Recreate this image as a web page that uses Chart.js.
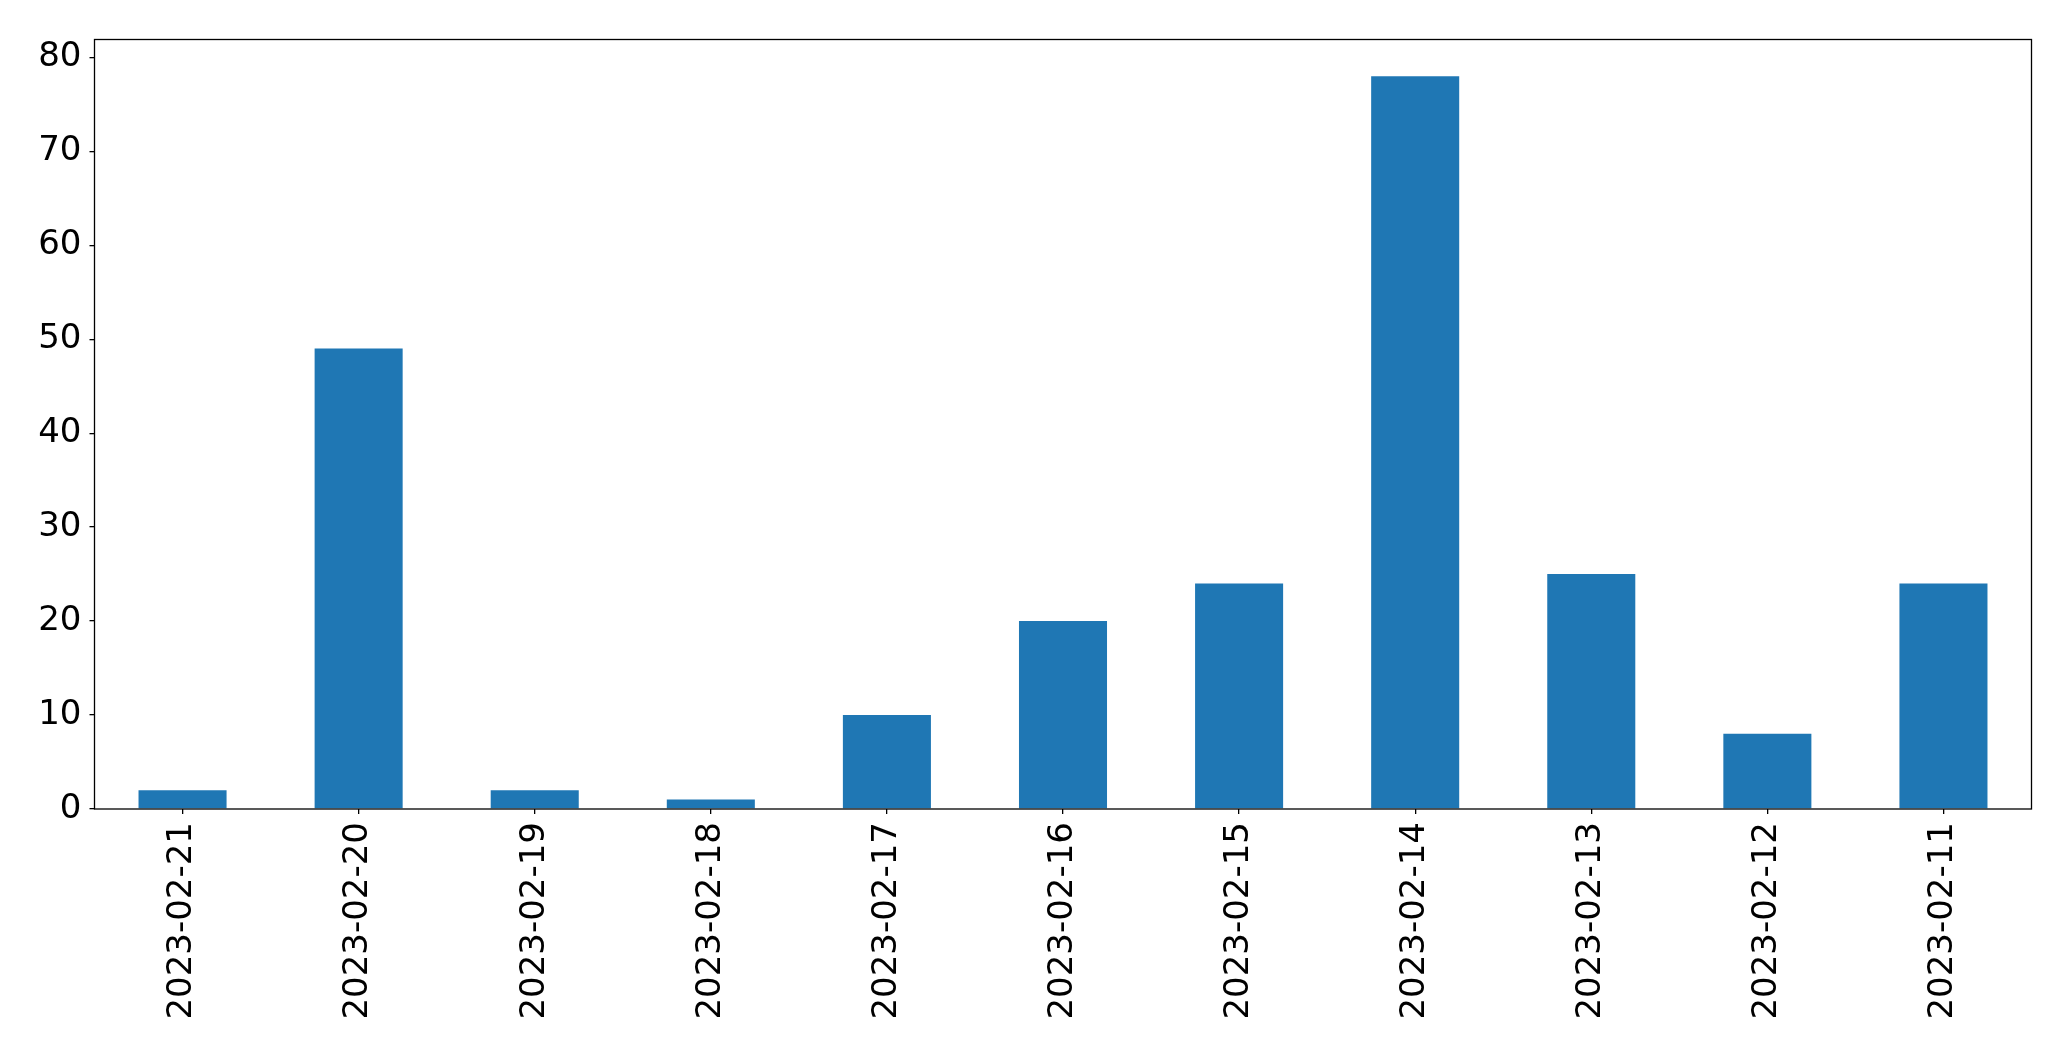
<!DOCTYPE html>
<html>
<head>
<meta charset="utf-8">
<script src="https://cdn.jsdelivr.net/npm/chart.js@4/dist/chart.umd.min.js"></script>
<style>
  html, body { margin: 0; padding: 0; background: #fff; }
  #wrap { width: 2071px; height: 1061px; }
</style>
</head>
<body>
<div id="wrap"><canvas id="barChart" width="2071" height="1061"></canvas></div>
<script>
// data
const dates = ["2023-02-21", "2023-02-20", "2023-02-19", "2023-02-18", "2023-02-17",
               "2023-02-16", "2023-02-15", "2023-02-14", "2023-02-13", "2023-02-12", "2023-02-11"];
const counts = [2, 49, 2, 1, 10, 20, 24, 78, 25, 8, 24];
const yTicks = [0, 10, 20, 30, 40, 50, 60, 70, 80];

// draws the full box round the plot area, like matplotlib's spines
const frame = {
    id: "frame",
    afterDraw(chart) {
        const a = chart.chartArea;
        const ctx = chart.ctx;
        ctx.save();
        ctx.strokeStyle = "#000";
        ctx.lineWidth = 1.3;
        ctx.strokeRect(a.left, a.top, a.right - a.left, a.bottom - a.top);
        ctx.restore();
    }
};

const ctx = document.getElementById("barChart").getContext("2d");

new Chart(ctx, {
    type: "bar",
    data: {
        labels: dates,
        datasets: [{
            data: counts,
            backgroundColor: "#1f77b4",
            borderWidth: 0,
            barPercentage: 0.5,
            categoryPercentage: 1.0
        }]
    },
    options: {
        responsive: false,
        animation: false,
        devicePixelRatio: 1,
        layout: { padding: { left: 0, right: 39.5, top: 39.5, bottom: 0 } },
        plugins: {
            legend: { display: false },
            tooltip: { enabled: false }
        },
        scales: {
            x: {
                offset: true,
                afterFit(scale) { scale.height = 252; },
                grid: {
                    display: true,
                    drawOnChartArea: false,
                    drawTicks: true,
                    tickLength: 5,
                    color: "#000",
                    lineWidth: 1.3,
                    offset: false
                },
                border: { display: false },
                ticks: {
                    maxRotation: 90,
                    minRotation: 90,
                    autoSkip: false,
                    padding: 8,
                    color: "#000",
                    font: { family: "DejaVu Sans", size: 34 }
                }
            },
            y: {
                min: 0,
                max: 81.9,
                afterFit(scale) { scale.width = 94.5; },
                afterBuildTicks(scale) {
                    scale.ticks = yTicks.map(v => ({ value: v }));
                },
                grid: {
                    display: true,
                    drawOnChartArea: false,
                    drawTicks: true,
                    tickLength: 5,
                    color: "#000",
                    lineWidth: 1.3
                },
                border: { display: false },
                ticks: {
                    padding: 8,
                    color: "#000",
                    font: { family: "DejaVu Sans", size: 34 }
                }
            }
        }
    },
    plugins: [frame]
});
</script>
</body>
</html>
